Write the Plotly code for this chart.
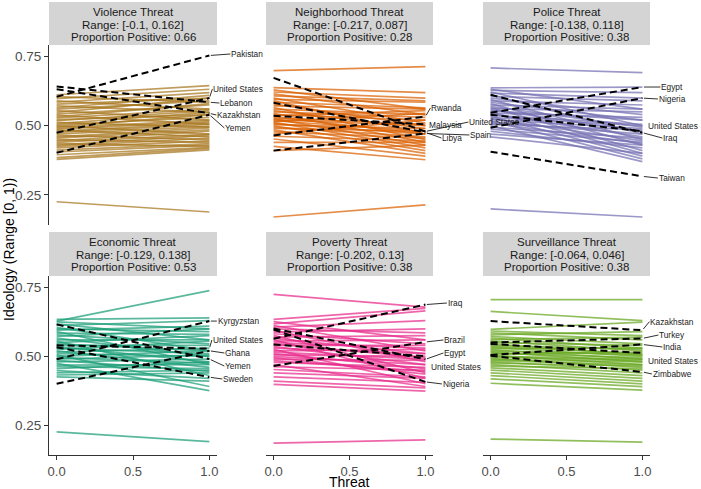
import plotly.graph_objects as go

W, H = 701, 489

# ---------------- data ----------------
panel_titles = ["Violence Threat", "Neighborhood Threat", "Police Threat",
                "Economic Threat", "Poverty Threat", "Surveillance Threat"]
range_texts = ["Range: [-0.1, 0.162]", "Range: [-0.217, 0.087]", "Range: [-0.138, 0.118]",
               "Range: [-0.129, 0.138]", "Range: [-0.202, 0.13]", "Range: [-0.064, 0.046]"]
prop_texts = ["Proportion Positive: 0.66", "Proportion Positive: 0.28", "Proportion Positive: 0.38",
              "Proportion Positive: 0.53", "Proportion Positive: 0.38", "Proportion Positive: 0.38"]

x_ticks = [0, 0.5, 1]
x_tick_labels = ["0.0", "0.5", "1.0"]
y_ticks = [0.25, 0.5, 0.75]
y_tick_labels = ["0.25", "0.50", "0.75"]

violence_start = [0.612, 0.605, 0.598, 0.590, 0.585, 0.578, 0.572, 0.565, 0.560, 0.555, 0.548, 0.542, 0.538,
                  0.532, 0.528, 0.522, 0.518, 0.512, 0.508, 0.503, 0.500, 0.496, 0.492, 0.488, 0.484, 0.480,
                  0.476, 0.470, 0.465, 0.460, 0.455, 0.450, 0.445, 0.440, 0.435, 0.430, 0.425, 0.420, 0.412,
                  0.405, 0.395, 0.385, 0.378, 0.225]
violence_end = [0.645, 0.585, 0.632, 0.560, 0.620, 0.600, 0.548, 0.610, 0.590, 0.520, 0.600, 0.575, 0.505,
                0.580, 0.560, 0.540, 0.555, 0.495, 0.548, 0.530, 0.470, 0.540, 0.520, 0.515, 0.460, 0.510,
                0.505, 0.498, 0.450, 0.492, 0.485, 0.440, 0.480, 0.470, 0.425, 0.465, 0.455, 0.445, 0.435,
                0.430, 0.422, 0.418, 0.413, 0.188]

neighborhood_start = [0.638, 0.630, 0.622, 0.615, 0.608, 0.600, 0.595, 0.590, 0.585, 0.578, 0.572, 0.566,
                      0.560, 0.555, 0.550, 0.545, 0.540, 0.536, 0.532, 0.528, 0.525, 0.522, 0.518, 0.515,
                      0.512, 0.508, 0.504, 0.500, 0.495, 0.490, 0.485, 0.478, 0.470, 0.462, 0.452, 0.440,
                      0.425, 0.410, 0.699, 0.170]
neighborhood_end = [0.620, 0.560, 0.600, 0.540, 0.590, 0.510, 0.585, 0.470, 0.565, 0.500, 0.560, 0.450,
                    0.540, 0.490, 0.530, 0.440, 0.520, 0.555, 0.470, 0.505, 0.430, 0.500, 0.480, 0.545,
                    0.420, 0.470, 0.490, 0.410, 0.460, 0.480, 0.400, 0.455, 0.520, 0.445, 0.390, 0.440,
                    0.377, 0.430, 0.714, 0.214]

police_start = [0.637, 0.632, 0.628, 0.622, 0.618, 0.612, 0.606, 0.600, 0.595, 0.590, 0.585, 0.580, 0.575,
                0.570, 0.566, 0.562, 0.558, 0.554, 0.550, 0.546, 0.542, 0.538, 0.534, 0.530, 0.526, 0.522,
                0.518, 0.514, 0.510, 0.505, 0.500, 0.495, 0.488, 0.480, 0.470, 0.460, 0.709, 0.199]
police_end = [0.640, 0.560, 0.620, 0.500, 0.600, 0.470, 0.590, 0.540, 0.450, 0.575, 0.520, 0.430, 0.560,
              0.495, 0.410, 0.550, 0.480, 0.520, 0.400, 0.530, 0.460, 0.505, 0.390, 0.500, 0.445, 0.490,
              0.380, 0.470, 0.435, 0.485, 0.370, 0.455, 0.440, 0.420, 0.430, 0.400, 0.692, 0.170]

economic_start = [0.634, 0.625, 0.618, 0.612, 0.605, 0.600, 0.595, 0.590, 0.584, 0.578, 0.572, 0.566, 0.560,
                  0.555, 0.550, 0.545, 0.540, 0.535, 0.530, 0.525, 0.520, 0.515, 0.510, 0.505, 0.500, 0.495,
                  0.490, 0.485, 0.480, 0.474, 0.468, 0.462, 0.455, 0.448, 0.440, 0.432, 0.425, 0.628, 0.225]
economic_end = [0.640, 0.600, 0.560, 0.630, 0.520, 0.590, 0.610, 0.470, 0.580, 0.545, 0.600, 0.500, 0.560,
                0.430, 0.575, 0.520, 0.540, 0.480, 0.510, 0.555, 0.460, 0.530, 0.500, 0.390, 0.520, 0.475,
                0.505, 0.445, 0.490, 0.375, 0.470, 0.455, 0.480, 0.420, 0.450, 0.440, 0.410, 0.739, 0.190]

poverty_start = [0.634, 0.626, 0.618, 0.612, 0.606, 0.600, 0.594, 0.588, 0.582, 0.576, 0.570, 0.565, 0.560,
                 0.555, 0.550, 0.545, 0.540, 0.535, 0.530, 0.525, 0.520, 0.515, 0.510, 0.505, 0.500, 0.495,
                 0.490, 0.484, 0.478, 0.470, 0.462, 0.452, 0.440, 0.425, 0.410, 0.398, 0.725, 0.184]
poverty_end = [0.674, 0.560, 0.665, 0.520, 0.630, 0.585, 0.480, 0.600, 0.545, 0.440, 0.575, 0.510, 0.420,
               0.560, 0.530, 0.495, 0.540, 0.470, 0.510, 0.400, 0.525, 0.490, 0.455, 0.500, 0.470, 0.435,
               0.485, 0.445, 0.460, 0.390, 0.450, 0.425, 0.420, 0.405, 0.385, 0.373, 0.679, 0.196]

surveillance_start = [0.598, 0.592, 0.585, 0.578, 0.572, 0.566, 0.560, 0.555, 0.550, 0.545, 0.540, 0.536,
                      0.532, 0.528, 0.524, 0.520, 0.516, 0.512, 0.508, 0.504, 0.500, 0.496, 0.492, 0.488,
                      0.484, 0.480, 0.475, 0.470, 0.464, 0.458, 0.450, 0.440, 0.430, 0.418, 0.402, 0.706,
                      0.663, 0.199]
surveillance_end = [0.624, 0.575, 0.560, 0.590, 0.545, 0.530, 0.570, 0.520, 0.540, 0.505, 0.525, 0.510,
                    0.500, 0.530, 0.490, 0.505, 0.480, 0.495, 0.515, 0.470, 0.490, 0.485, 0.460, 0.480,
                    0.470, 0.450, 0.465, 0.440, 0.455, 0.430, 0.420, 0.410, 0.400, 0.390, 0.377, 0.706,
                    0.630, 0.188]

# highlighted countries (dashed)
violence_names = ["Pakistan", "United States", "Lebanon", "Kazakhstan", "Yemen"]
violence_hl_start = [0.605, 0.475, 0.642, 0.632, 0.402]
violence_hl_end = [0.754, 0.600, 0.585, 0.545, 0.540]

neighborhood_names = ["Rwanda", "Malaysia", "United States", "Spain", "Libya"]
neighborhood_hl_start = [0.465, 0.536, 0.673, 0.410, 0.583]
neighborhood_hl_end = [0.533, 0.505, 0.479, 0.472, 0.476]

police_names = ["Egypt", "Nigeria", "United States", "Iraq", "Taiwan"]
police_hl_start = [0.547, 0.493, 0.540, 0.612, 0.406]
police_hl_end = [0.640, 0.600, 0.480, 0.475, 0.317]

economic_names = ["Kyrgyzstan", "United States", "Ghana", "Yemen", "Sweden"]
economic_hl_start = [0.489, 0.540, 0.400, 0.616, 0.533]
economic_hl_end = [0.628, 0.528, 0.520, 0.490, 0.424]

poverty_names = ["Iraq", "Brazil", "Egypt", "United States", "Nigeria"]
poverty_hl_start = [0.564, 0.465, 0.601, 0.543, 0.597]
poverty_hl_end = [0.688, 0.552, 0.489, 0.500, 0.407]

surveillance_names = ["Kazakhstan", "Turkey", "India", "United States", "Zimbabwe"]
surveillance_hl_start = [0.628, 0.550, 0.505, 0.545, 0.502]
surveillance_hl_end = [0.595, 0.565, 0.543, 0.512, 0.443]

# ---------------- styling ----------------
colors = ["rgba(166,118,29,0.72)", "rgba(217,95,2,0.72)", "rgba(117,112,179,0.72)",
          "rgba(27,158,119,0.72)", "rgba(231,41,138,0.72)", "rgba(102,166,30,0.72)"]

# label offsets in pixels from line end (dx, dy) and whether a leader is drawn
label_offsets = [
    [(21, -1.5), (3, -9), (10, 0.8), (7, 1.7), (15, 13.3)],
    [(5, -8.6), (2.5, 0.6), (43, -9.5), (44, 1.5), (16, 5.6)],
    [(18, 0), (15.5, 0.9), (4.5, -5.3), (20, 5.4), (15.5, 1.7)],
    [(7.5, 0), (2.5, -8.6), (15, 2.2), (15, 7), (13, 1.8)],
    [(21.5, -1.6), (18, -2), (18, -6.3), (4.5, 10.4), (16.5, 2.1)],
    [(7, -8.5), (16, -3.4), (20, 2.5), (4.5, 7.7), (9.5, 2)],
]
label_leader = [
    [True, True, True, True, True],
    [True, False, True, True, True],
    [True, True, False, True, True],
    [True, True, True, True, True],
    [True, True, True, False, True],
    [True, True, True, False, True],
]

FONT = "Liberation Sans, Arial, Helvetica, sans-serif"

panels = [
    (violence_start, violence_end, violence_names, violence_hl_start, violence_hl_end),
    (neighborhood_start, neighborhood_end, neighborhood_names, neighborhood_hl_start, neighborhood_hl_end),
    (police_start, police_end, police_names, police_hl_start, police_hl_end),
    (economic_start, economic_end, economic_names, economic_hl_start, economic_hl_end),
    (poverty_start, poverty_end, poverty_names, poverty_hl_start, poverty_hl_end),
    (surveillance_start, surveillance_end, surveillance_names, surveillance_hl_start, surveillance_hl_end),
]

# layout in pixels
col_px = [(49, 217), (266, 433), (483, 650)]
row_plot_px = [(45, 225), (276, 455)]
row_strip_px = [(2, 45), (232, 276)]
strip_line_px = [(12, 25, 37.3), (241.7, 255, 267.3)]


def px_x(p):
    return p / W


def px_y(p):
    return 1 - p / H


fig = go.Figure()
layout = dict(
    width=W, height=H,
    margin=dict(l=0, r=0, t=0, b=0),
    paper_bgcolor="white", plot_bgcolor="white",
    showlegend=False, hovermode=False,
    font=dict(family=FONT),
)
shapes = []
annotations = []

for i, (st, en, names, hs, he) in enumerate(panels):
    r, c = divmod(i, 3)
    k = i + 1
    xa = "x" if k == 1 else f"x{k}"
    ya = "y" if k == 1 else f"y{k}"
    xs, ys = [], []
    for s, e in zip(st, en):
        xs += [0, 1, None]
        ys += [s, e, None]
    fig.add_trace(go.Scatter(x=xs, y=ys, mode="lines", xaxis=xa, yaxis=ya,
                             line=dict(color=colors[i], width=1.7), hoverinfo="skip"))
    xs, ys = [], []
    for s, e in zip(hs, he):
        xs += [0, 1, None]
        ys += [s, e, None]
    fig.add_trace(go.Scatter(x=xs, y=ys, mode="lines", xaxis=xa, yaxis=ya,
                             line=dict(color="black", width=2, dash="7px,4px"), hoverinfo="skip"))

    x0, x1 = col_px[c]
    y0, y1 = row_plot_px[r]
    bottom = (r == 1)
    left = (c == 0)
    layout["xaxis" if k == 1 else f"xaxis{k}"] = dict(
        domain=[px_x(x0), px_x(x1)], range=[-0.05, 1.05], anchor=ya,
        showgrid=False, zeroline=False, automargin=False,
        showline=bottom, linecolor="#333333", linewidth=1.2,
        ticks="outside" if bottom else "", ticklen=4, tickcolor="#333333", tickwidth=1.2,
        tickvals=x_ticks, ticktext=x_tick_labels, showticklabels=bottom,
        tickfont=dict(size=13, color="#4d4d4d", family=FONT),
    )
    layout["yaxis" if k == 1 else f"yaxis{k}"] = dict(
        domain=[px_y(y1), px_y(y0)], range=[0.141, 0.792], anchor=xa,
        showgrid=False, zeroline=False, automargin=False,
        showline=left, linecolor="#333333", linewidth=1.2,
        ticks="outside" if left else "", ticklen=4, tickcolor="#333333", tickwidth=1.2,
        tickvals=y_ticks, ticktext=y_tick_labels, showticklabels=left,
        tickfont=dict(size=13.5, color="#4d4d4d", family=FONT),
    )

    # strip
    sy0, sy1 = row_strip_px[r]
    shapes.append(dict(type="rect", xref="paper", yref="paper",
                       x0=px_x(x0), x1=px_x(x1), y0=px_y(sy1), y1=px_y(sy0),
                       fillcolor="#D4D4D4", line=dict(width=0), layer="below"))
    for txt, ly in zip([panel_titles[i], range_texts[i], prop_texts[i]], strip_line_px[r]):
        annotations.append(dict(text=txt, xref="paper", yref="paper",
                                x=px_x((x0 + x1) / 2), y=px_y(ly), showarrow=False,
                                xanchor="center", yanchor="middle",
                                font=dict(size=11.5, color="#1a1a1a", family=FONT)))

    # country labels
    for j, (nm, e) in enumerate(zip(names, he)):
        dx, dy = label_offsets[i][j]
        annotations.append(dict(
            text=nm, xref=xa, yref=ya, x=1, y=e, ax=dx, ay=dy,
            showarrow=True, arrowhead=0, arrowwidth=0.9, standoff=1.5,
            arrowcolor="#1a1a1a" if label_leader[i][j] else "rgba(0,0,0,0)",
            xanchor="left", yanchor="middle", borderpad=0,
            font=dict(size=8.3, color="#1a1a1a", family=FONT)))

# axis titles
annotations.append(dict(text="Ideology (Range [0, 1))", xref="paper", yref="paper",
                        x=px_x(9), y=px_y(250), showarrow=False, textangle=-90,
                        xanchor="center", yanchor="middle",
                        font=dict(size=14, color="black", family=FONT)))
annotations.append(dict(text="Threat", xref="paper", yref="paper",
                        x=px_x(349.5), y=px_y(482), showarrow=False,
                        xanchor="center", yanchor="middle",
                        font=dict(size=14, color="black", family=FONT)))

layout["shapes"] = shapes
layout["annotations"] = annotations
fig.update_layout(**layout)
fig.write_html("out.html", config={"displayModeBar": False},
               post_script="document.body.style.margin='0';document.body.style.padding='0';")
